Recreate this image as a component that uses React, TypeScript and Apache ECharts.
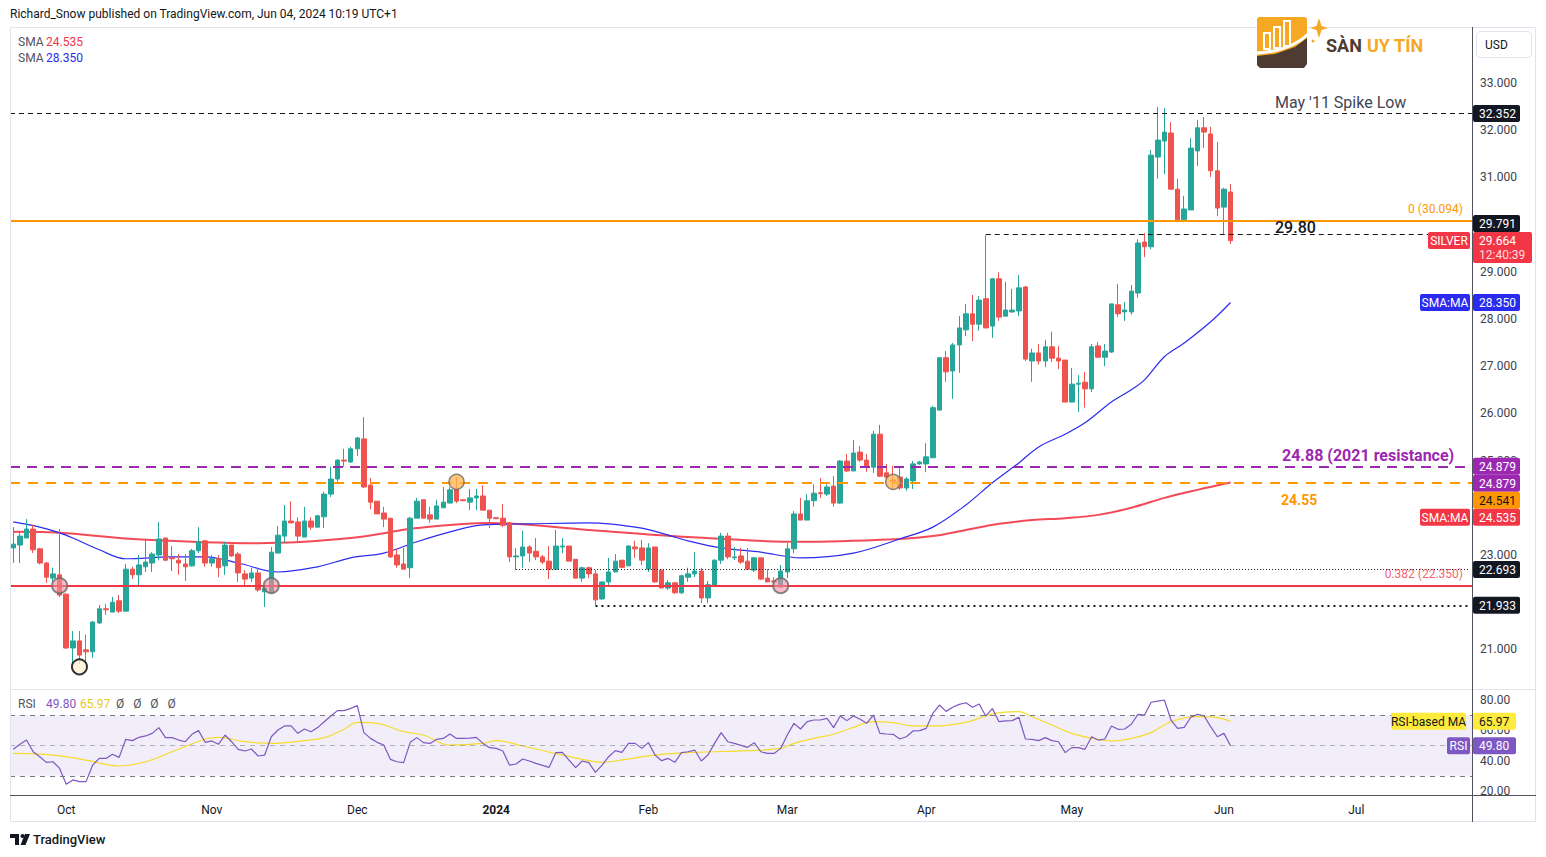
import React, { useEffect, useRef } from 'react';
import * as echarts from 'echarts';

// ---------- data ----------
const N_CATS = 221; // trading days incl. empty right margin
const monthTickIdx = [8, 30, 52, 73, 96, 117, 138, 160, 183, 203];
const monthTickLabel = ['Oct', 'Nov', 'Dec', '2024', 'Feb', 'Mar', 'Apr', 'May', 'Jun', 'Jul'];
const priceTicks = [21, 23, 25, 26, 27, 28, 29, 31, 32, 33];
const rsiTicks = [20, 40, 60, 80];

// [open, close, low, high]
const ohlc: number[][] = [
  [23.15, 23.23, 22.83, 23.59], [23.21, 23.40, 22.83, 23.49], [23.36, 23.55, 23.36, 23.76], [23.55, 23.11, 23.04, 23.64],
  [23.13, 22.83, 22.80, 23.15], [22.83, 22.53, 22.41, 22.85], [22.51, 22.60, 22.43, 22.73], [22.58, 22.15, 22.11, 23.55],
  [22.17, 21.03, 21.01, 22.19], [21.03, 21.18, 20.71, 21.39], [21.18, 20.88, 20.69, 21.39], [20.99, 20.95, 20.71, 21.31],
  [20.95, 21.58, 20.82, 21.60], [21.56, 21.86, 21.54, 21.94], [21.86, 21.84, 21.73, 21.96], [21.79, 22.00, 21.79, 22.11],
  [22.03, 21.81, 21.77, 22.15], [21.81, 22.70, 21.81, 22.81], [22.70, 22.58, 22.49, 22.75], [22.58, 22.79, 22.36, 23.00],
  [22.75, 22.85, 22.64, 23.32], [22.83, 23.02, 22.64, 23.06], [23.00, 23.34, 22.89, 23.70], [23.36, 22.89, 22.87, 23.36],
  [22.94, 22.92, 22.66, 23.19], [22.89, 22.83, 22.58, 23.02], [22.81, 22.75, 22.45, 23.02], [22.77, 23.09, 22.75, 23.13],
  [23.09, 23.28, 23.04, 23.59], [23.30, 22.83, 22.75, 23.32], [22.83, 22.92, 22.75, 23.00], [22.92, 22.73, 22.53, 23.00],
  [22.77, 23.21, 22.58, 23.28], [23.21, 22.98, 22.96, 23.21], [23.02, 22.62, 22.43, 23.06], [22.60, 22.49, 22.32, 22.68],
  [22.51, 22.62, 22.43, 22.73], [22.62, 22.26, 22.22, 22.73], [22.22, 22.30, 21.90, 22.34], [22.20, 23.06, 22.20, 23.17],
  [23.04, 23.42, 23.04, 23.61], [23.40, 23.72, 23.27, 24.06], [23.72, 23.68, 23.68, 24.14], [23.70, 23.40, 23.27, 23.80],
  [23.38, 23.72, 23.38, 24.02], [23.72, 23.59, 23.53, 23.80], [23.59, 23.83, 23.59, 23.85], [23.81, 24.29, 23.57, 24.34],
  [24.29, 24.61, 24.23, 24.87], [24.61, 25.01, 24.55, 25.03], [25.01, 24.99, 24.87, 25.25], [24.97, 25.25, 24.95, 25.29],
  [25.25, 25.48, 25.10, 25.50], [25.46, 24.44, 24.42, 25.92], [24.48, 24.12, 23.97, 24.63], [24.14, 23.87, 23.87, 24.14],
  [23.89, 23.76, 23.59, 24.02], [23.78, 22.96, 22.94, 23.78], [23.00, 22.79, 22.73, 23.13], [22.81, 22.70, 22.70, 23.15],
  [22.73, 23.78, 22.51, 23.81], [23.78, 24.14, 23.78, 24.21], [24.17, 23.78, 23.78, 24.17], [23.85, 23.76, 23.68, 24.02],
  [23.76, 24.04, 23.76, 24.17], [24.00, 24.12, 24.00, 24.44], [24.10, 24.38, 24.10, 24.44], [24.40, 24.14, 24.10, 24.65],
  [24.17, 24.15, 24.15, 24.17], [24.12, 24.21, 23.95, 24.40], [24.21, 24.25, 23.95, 24.40], [24.25, 23.95, 23.95, 24.48],
  [23.95, 23.78, 23.57, 23.95], [23.79, 23.77, 23.76, 23.80], [23.78, 23.63, 23.59, 24.08], [23.68, 22.96, 22.85, 23.70],
  [22.96, 22.98, 22.68, 23.15], [22.98, 23.17, 22.73, 23.51], [23.17, 23.04, 22.85, 23.21], [23.08, 22.96, 22.89, 23.36],
  [22.96, 22.85, 22.81, 23.00], [22.87, 22.70, 22.49, 23.19], [22.70, 23.19, 22.70, 23.53], [23.17, 23.19, 23.04, 23.36],
  [23.19, 22.87, 22.87, 23.19], [22.91, 22.51, 22.51, 22.91], [22.51, 22.73, 22.43, 22.75], [22.73, 22.60, 22.51, 22.75],
  [22.60, 22.05, 21.94, 22.68], [22.07, 22.43, 22.05, 22.43], [22.43, 22.64, 22.34, 22.94], [22.64, 22.87, 22.64, 23.02],
  [22.89, 22.74, 22.72, 22.89], [22.77, 23.19, 22.77, 23.21], [23.17, 23.13, 22.94, 23.30], [23.15, 22.89, 22.79, 23.32],
  [22.70, 23.15, 22.64, 23.25], [23.17, 22.43, 22.41, 23.17], [22.68, 22.30, 22.30, 22.68], [22.30, 22.41, 22.26, 22.47],
  [22.41, 22.20, 22.17, 22.43], [22.20, 22.56, 22.17, 22.58], [22.53, 22.60, 22.43, 22.73], [22.60, 22.66, 22.53, 23.06],
  [22.66, 22.09, 21.98, 22.73], [22.09, 22.37, 21.98, 22.45], [22.36, 22.89, 22.34, 22.91], [22.89, 23.40, 22.81, 23.47],
  [23.40, 22.96, 22.91, 23.47], [22.94, 22.96, 22.89, 23.17], [22.98, 22.85, 22.81, 23.15], [22.87, 22.70, 22.70, 23.15],
  [22.68, 22.94, 22.64, 22.96], [22.94, 22.49, 22.47, 22.94], [22.51, 22.43, 22.43, 22.70], [22.45, 22.43, 22.39, 22.53],
  [22.32, 22.66, 22.32, 22.79], [22.64, 23.13, 22.51, 23.25], [23.13, 23.87, 23.04, 23.93], [23.87, 23.74, 23.74, 24.21],
  [23.74, 24.15, 23.74, 24.29], [24.15, 24.31, 24.02, 24.50], [24.32, 24.30, 24.21, 24.63], [24.29, 24.44, 24.25, 24.50],
  [24.46, 24.10, 24.02, 24.67], [24.10, 24.99, 24.08, 25.01], [24.99, 24.78, 24.76, 25.14], [24.78, 25.16, 24.78, 25.44],
  [25.18, 25.01, 24.97, 25.31], [25.01, 24.86, 24.76, 25.14], [24.86, 25.56, 24.74, 25.63], [25.56, 24.67, 24.65, 25.76],
  [24.74, 24.65, 24.59, 24.93], [24.59, 24.55, 24.38, 24.89], [24.65, 24.42, 24.38, 24.86], [24.42, 24.61, 24.36, 24.65],
  [24.57, 24.93, 24.40, 24.99], [24.93, 24.97, 24.91, 24.99], [24.93, 25.08, 24.76, 25.37], [25.06, 26.12, 25.06, 26.16],
  [26.07, 27.18, 26.07, 27.18], [27.18, 26.88, 26.67, 27.32], [26.90, 27.45, 26.31, 27.49], [27.45, 27.81, 26.86, 28.06],
  [27.77, 28.11, 27.64, 28.32], [28.11, 27.89, 27.53, 28.51], [27.89, 28.40, 27.75, 28.49], [28.43, 27.81, 27.81, 29.78],
  [27.85, 28.85, 27.60, 28.87], [28.85, 28.04, 27.96, 28.99], [28.06, 28.19, 28.06, 28.79], [28.15, 28.19, 28.13, 28.64],
  [28.17, 28.66, 28.06, 28.93], [28.68, 27.15, 27.11, 28.70], [27.11, 27.28, 26.67, 27.37], [27.28, 27.11, 27.03, 27.47],
  [27.11, 27.41, 26.98, 27.56], [27.41, 27.17, 27.09, 27.73], [27.17, 27.11, 26.94, 27.43], [27.13, 26.24, 26.24, 27.13],
  [26.24, 26.62, 26.24, 26.96], [26.62, 26.64, 26.03, 26.81], [26.66, 26.52, 26.12, 26.88], [26.52, 27.41, 26.45, 27.47],
  [27.43, 27.19, 27.17, 27.51], [27.19, 27.32, 27.00, 27.47], [27.30, 28.32, 27.28, 28.32], [28.30, 28.11, 28.04, 28.74],
  [28.15, 28.19, 27.96, 28.36], [28.15, 28.59, 28.09, 28.72], [28.55, 29.61, 28.45, 29.69], [29.63, 29.53, 29.31, 29.82],
  [29.53, 31.47, 29.48, 31.58], [31.43, 31.79, 30.97, 32.49], [31.77, 31.96, 31.07, 32.47], [31.94, 30.75, 30.75, 32.17],
  [30.75, 30.10, 30.05, 30.97], [30.10, 30.33, 30.05, 30.61], [30.31, 31.62, 30.31, 31.83], [31.56, 32.05, 31.24, 32.22],
  [32.05, 31.96, 31.62, 32.28], [31.92, 31.14, 31.01, 32.07], [31.14, 30.35, 30.18, 31.75], [30.37, 30.75, 29.80, 30.78],
  [30.69, 29.66, 29.59, 30.86],
];

const rsi: number[] = [
  47.5, 50.8, 53.6, 45.9, 42.6, 38.9, 39.3, 34.9, 24.4, 27.3, 26.2, 26.2, 37.1, 41.5, 41.5, 44.2, 42.2, 54.1, 53.2, 55.4,
  56.3, 58.0, 61.8, 55.2, 55.2, 53.6, 52.5, 57.4, 59.8, 52.1, 53.0, 50.8, 56.9, 52.5, 47.5, 46.4, 47.7, 43.1, 43.7, 55.8,
  60.2, 62.9, 62.9, 58.0, 60.9, 59.1, 61.8, 65.7, 69.5, 73.0, 73.0, 74.5, 76.3, 58.5, 54.7, 52.1, 50.3, 40.9, 39.3, 38.7,
  52.1, 55.2, 51.9, 51.4, 54.1, 54.7, 57.6, 54.7, 54.7, 54.9, 55.4, 51.4, 48.6, 48.1, 46.4, 37.1, 37.8, 41.1, 39.8, 38.2,
  36.9, 35.6, 45.3, 45.5, 40.4, 35.4, 39.8, 38.7, 32.3, 37.1, 42.6, 46.6, 45.5, 51.4, 51.4, 48.1, 51.9, 43.7, 40.0, 41.5,
  38.9, 45.3, 45.9, 47.0, 39.8, 43.7, 51.4, 58.5, 52.5, 51.4, 50.1, 48.8, 51.9, 45.9, 44.8, 44.8, 48.1, 56.9, 64.6, 60.9,
  65.7, 66.8, 66.8, 67.9, 61.8, 69.5, 66.4, 69.5, 67.3, 64.6, 70.1, 58.0, 57.6, 57.4, 54.3, 55.8, 59.6, 59.8, 61.3, 71.2,
  76.7, 72.5, 75.2, 77.1, 78.2, 75.2, 77.4, 69.5, 74.3, 65.7, 66.2, 66.4, 68.6, 54.3, 54.1, 53.2, 55.2, 53.2, 52.5, 45.3,
  48.6, 48.6, 47.5, 55.8, 53.6, 54.3, 62.9, 60.7, 60.9, 64.0, 70.5, 70.1, 78.5, 79.3, 80.0, 66.8, 61.3, 62.0, 68.6, 70.5,
  69.5, 62.4, 55.8, 58.0, 49.8,
];

const rsiMaIdx = [0, 6, 11, 16, 20, 24, 29, 31, 35, 39, 44, 47, 50, 52, 55, 59, 62, 66, 71, 73, 77, 83, 86, 89, 92, 97, 103, 111, 116, 118, 121, 124, 127, 130, 133, 136, 139, 144, 148, 152, 154, 157, 160, 163, 166, 169, 172, 175, 179, 182, 184];
const rsiMaVal = [44.8, 43.7, 40.4, 36.5, 39.3, 45.9, 54.1, 55.4, 52.5, 51.4, 53.2, 55.2, 60.7, 65.3, 64.6, 59.1, 56.9, 50.3, 51.4, 53.2, 49.7, 43.7, 40.9, 38.9, 40.5, 43.7, 45.5, 46.6, 48.1, 51.4, 54.7, 57.4, 62.0, 65.7, 65.1, 62.9, 62.9, 65.3, 70.8, 72.3, 69.0, 63.5, 58.0, 54.7, 53.0, 54.7, 58.5, 65.7, 69.0, 68.4, 65.97];

const smaRedIdx = [0, 7, 18, 37, 51, 61, 72, 87, 102, 119, 134, 139, 144, 149, 154, 159, 164, 169, 174, 179, 184];
const smaRedVal = [23.49, 23.47, 23.34, 23.25, 23.36, 23.57, 23.68, 23.53, 23.38, 23.28, 23.34, 23.40, 23.53, 23.66, 23.74, 23.78, 23.85, 24.00, 24.21, 24.38, 24.535];

const smaBlueIdx = [0, 4, 7, 9, 13, 17, 24, 29, 34, 40, 46, 51, 56, 61, 66, 71, 78, 87, 95, 99, 102, 107, 113, 119, 127, 134, 139, 144, 148, 152, 155, 159, 162, 166, 169, 171, 174, 177, 181, 184];
const smaBlueVal = [23.70, 23.59, 23.47, 23.36, 23.11, 22.92, 22.96, 22.96, 22.83, 22.64, 22.75, 22.94, 23.04, 23.28, 23.49, 23.64, 23.66, 23.68, 23.57, 23.42, 23.30, 23.15, 23.06, 22.94, 23.04, 23.34, 23.59, 24.06, 24.53, 24.95, 25.29, 25.56, 25.80, 26.24, 26.50, 26.71, 27.20, 27.49, 27.94, 28.35];

const markerIdx = [7, 10, 39, 67, 116, 133];
const markerPrice = [22.35, 20.63, 22.35, 24.55, 22.35, 24.55];
const markerKind = ['pink', 'black', 'pink', 'orange', 'pink', 'orange'];

// levels
const spikeLow = 32.352;
const fib0 = 30.094;
const level2980 = 29.791;
const lastPrice = 29.664;
const smaBlueLast = 28.35;
const res2021 = 24.879;
const level2455 = 24.541;
const smaRedLast = 24.535;
const dotted1 = 22.693;
const fib382 = 22.35;
const dotted2 = 21.933;
const rsiLast = 49.8;
const rsiMaLast = 65.97;
const level2980Start = 147;
const dotted1Start = 76;
const dotted2Start = 88;

// ---------- helpers ----------
const F = 'Roboto, "Noto Sans", sans-serif';
const UP = '#26a69a';
const DOWN = '#ef5350';
const RED = '#f23645';
const BLUE = '#2b2bef';
const PURPLE = '#9c27b0';
const ORANGE = '#ff9800';
const RSI_C = '#7e57c2';
const YEL = '#f5dc2a';
const INK = '#131722';

function buildDates(): string[] {
  const out: string[] = [];
  let t = Date.UTC(2023, 8, 20);
  while (out.length < N_CATS) {
    const d = new Date(t);
    const wd = d.getUTCDay();
    if (wd !== 0 && wd !== 6) out.push(d.toISOString().slice(0, 10));
    t += 86400000;
  }
  return out;
}

function txt(x: number, y: number, text: string, fill: string, size = 12, weight: any = 'normal', align = 'left', extra: any = {}) {
  return {
    type: 'text', z: 101, x, y, silent: true,
    style: { text, fill, fontSize: size, fontFamily: F, fontWeight: weight, align, verticalAlign: 'middle', textAlign: align, textVerticalAlign: 'middle', ...extra },
  };
}
function box(x: number, yc: number, w: number, h: number, fill: string, text: string, color: string, align = 'left') {
  return [
    { type: 'rect', z: 100, silent: true, shape: { x, y: yc - h / 2, width: w, height: h, r: 2 }, style: { fill } },
    txt(align === 'center' ? x + w / 2 : x + 6, yc + 0.5, text, color, 12, 'normal', align),
  ];
}

export default function App() {
  const ref = useRef<HTMLDivElement>(null);
  useEffect(() => {
    if (!ref.current) return;
    const chart = echarts.init(ref.current, null, { renderer: 'svg' });
    const dates = buildDates();

    const markerStyle: Record<string, any> = {
      pink: { color: 'rgba(244,143,160,0.75)', borderColor: '#6b6b6b', borderWidth: 2 },
      black: { color: '#fff3d6', borderColor: '#000', borderWidth: 2 },
      orange: { color: 'rgba(255,183,77,0.95)', borderColor: '#6b6b6b', borderWidth: 1.5 },
    };

    const solid = (c: string, w = 1) => ({ color: c, width: w, type: 'solid' as any });

    const option: any = {
      animation: false,
      backgroundColor: '#ffffff',
      textStyle: { fontFamily: F },
      grid: [
        { left: 10, top: 27, width: 1462, height: 662 },
        { left: 10, top: 690, width: 1462, height: 105 },
      ],
      xAxis: [
        {
          type: 'category', gridIndex: 0, data: dates, boundaryGap: true,
          axisLine: { show: false }, axisTick: { show: false }, axisLabel: { show: false }, splitLine: { show: false },
        },
        {
          type: 'category', gridIndex: 1, data: dates, boundaryGap: true,
          axisLine: { show: false }, axisTick: { show: false }, splitLine: { show: false },
          axisLabel: {
            show: true, color: INK, fontSize: 12, margin: 9, fontFamily: F,
            interval: (i: number) => monthTickIdx.includes(i),
            formatter: (_v: string, i: number) => {
              const k = monthTickIdx.indexOf(i);
              if (k < 0) return '';
              return monthTickLabel[k] === '2024' ? '{b|2024}' : monthTickLabel[k];
            },
            rich: { b: { fontWeight: 'bold', fontSize: 12, color: INK, fontFamily: F } },
          },
        },
      ],
      yAxis: [
        {
          type: 'value', gridIndex: 0, position: 'right', min: 20.161, max: 34.186,
          axisLine: { show: false }, axisTick: { show: false }, splitLine: { show: false },
          axisLabel: { customValues: priceTicks, formatter: (v: number) => v.toFixed(3), color: '#3d414b', fontSize: 12, margin: 8, fontFamily: F },
        },
        {
          type: 'value', gridIndex: 1, position: 'right', min: 17.38, max: 86.59,
          axisLine: { show: false }, axisTick: { show: false }, splitLine: { show: false },
          axisLabel: { customValues: rsiTicks, formatter: (v: number) => v.toFixed(2), color: '#3d414b', fontSize: 12, margin: 8, fontFamily: F },
        },
      ],
      series: [
        {
          type: 'candlestick', name: 'SILVER', xAxisIndex: 0, yAxisIndex: 0, data: ohlc, barWidth: 5,
          itemStyle: { color: UP, color0: DOWN, borderColor: UP, borderColor0: DOWN, borderWidth: 1 },
          z: 3,
          markLine: {
            silent: true, symbol: ['none', 'none'], label: { show: false }, animation: false,
            data: [
              { yAxis: spikeLow, lineStyle: { color: INK, width: 1, type: [5, 4] } },
              { yAxis: fib0, lineStyle: solid(ORANGE, 2) },
              [{ coord: [dates[level2980Start], level2980], lineStyle: { color: INK, width: 1, type: [5, 4] } }, { coord: [dates[N_CATS - 1], level2980] }],
              { yAxis: res2021, lineStyle: { color: PURPLE, width: 2, type: [10, 7] } },
              { yAxis: level2455, lineStyle: { color: ORANGE, width: 2, type: [10, 8] } },
              [{ coord: [dates[dotted1Start], dotted1], lineStyle: { color: INK, width: 1, type: [1, 2] } }, { coord: [dates[N_CATS - 1], dotted1] }],
              { yAxis: fib382, lineStyle: solid(RED, 2) },
              [{ coord: [dates[dotted2Start], dotted2], lineStyle: { color: INK, width: 2, type: [2, 4] } }, { coord: [dates[N_CATS - 1], dotted2] }],
            ],
          },
        },
        {
          type: 'line', name: 'SMA200', xAxisIndex: 0, yAxisIndex: 0, smooth: 0.35, showSymbol: false, silent: true, z: 2,
          data: smaRedIdx.map((i, k) => [dates[i], smaRedVal[k]]),
          lineStyle: { color: RED, width: 2, opacity: 0.9 },
        },
        {
          type: 'line', name: 'SMA50', xAxisIndex: 0, yAxisIndex: 0, smooth: 0.35, showSymbol: false, silent: true, z: 2,
          data: smaBlueIdx.map((i, k) => [dates[i], smaBlueVal[k]]),
          lineStyle: { color: BLUE, width: 1.2 },
        },
        {
          type: 'scatter', name: 'markers', xAxisIndex: 0, yAxisIndex: 0, symbolSize: 15, z: 6, silent: true,
          data: markerIdx.map((i, k) => ({ value: [dates[i], markerPrice[k]], itemStyle: markerStyle[markerKind[k]] })),
        },
        {
          type: 'line', name: 'RSI', xAxisIndex: 1, yAxisIndex: 1, showSymbol: false, silent: true, z: 3,
          data: rsi, lineStyle: { color: RSI_C, width: 1.2 },
          markArea: {
            silent: true, itemStyle: { color: 'rgba(126,87,194,0.1)' },
            data: [[{ yAxis: 30 }, { yAxis: 70 }]],
          },
          markLine: {
            silent: true, symbol: ['none', 'none'], label: { show: false },
            data: [
              { yAxis: 70, lineStyle: { color: '#787b86', width: 1, type: [5, 5] } },
              { yAxis: 50, lineStyle: { color: 'rgba(120,123,134,0.55)', width: 1, type: [5, 5] } },
              { yAxis: 30, lineStyle: { color: '#787b86', width: 1, type: [5, 5] } },
            ],
          },
        },
        {
          type: 'line', name: 'RSI MA', xAxisIndex: 1, yAxisIndex: 1, showSymbol: false, silent: true, smooth: 0.4, z: 2,
          data: rsiMaIdx.map((i, k) => [dates[i], rsiMaVal[k]]),
          lineStyle: { color: YEL, width: 1.2 },
        },
      ],
    };

    chart.setOption(option);

    const py = (v: number) => chart.convertToPixel({ yAxisIndex: 0 } as any, v) as number;
    const ry = (v: number) => chart.convertToPixel({ yAxisIndex: 1 } as any, v) as number;

    const els: any[] = [];
    // frame
    els.push({ type: 'rect', z: 90, silent: true, shape: { x: 10.5, y: 27.5, width: 1525, height: 794 }, style: { fill: 'none', stroke: '#e0e3eb', lineWidth: 1 } });
    els.push({ type: 'line', z: 90, silent: true, shape: { x1: 10, y1: 689.5, x2: 1536, y2: 689.5 }, style: { stroke: '#e0e3eb', lineWidth: 1 } });
    els.push({ type: 'line', z: 90, silent: true, shape: { x1: 10, y1: 795.5, x2: 1536, y2: 795.5 }, style: { stroke: '#50535e', lineWidth: 1 } });
    els.push({ type: 'line', z: 90, silent: true, shape: { x1: 1472.5, y1: 27, x2: 1472.5, y2: 822 }, style: { stroke: '#50535e', lineWidth: 1 } });

    // header
    els.push(txt(10, 14, 'Richard_Snow published on TradingView.com, Jun 04, 2024 10:19 UTC+1', INK, 12));
    // legends
    els.push(txt(18, 42, 'SMA', '#50535e', 12));
    els.push(txt(46, 42, smaRedLast.toFixed(3), RED, 12));
    els.push(txt(18, 58, 'SMA', '#50535e', 12));
    els.push(txt(46, 58, smaBlueLast.toFixed(3), BLUE, 12));
    els.push(txt(18, 704, 'RSI', '#50535e', 12));
    els.push(txt(46, 704, rsiLast.toFixed(2), RSI_C, 12));
    els.push(txt(80, 704, rsiMaLast.toFixed(2), '#e6c81a', 12));
    els.push(txt(116, 704, 'Ø   Ø   Ø   Ø', '#50535e', 12));

    // USD box
    els.push({ type: 'rect', z: 100, silent: true, shape: { x: 1476.5, y: 31.5, width: 55, height: 26, r: 4 }, style: { fill: '#fff', stroke: '#e0e3eb', lineWidth: 1 } });
    els.push(txt(1485, 45, 'USD', INK, 12));

    // logo
    els.push({ type: 'rect', z: 100, silent: true, shape: { x: 1257, y: 17, width: 50, height: 44, r: 3 }, style: { fill: '#f7a823' } });
    els.push({ type: 'polygon', z: 101, silent: true, shape: { points: [[1257, 56], [1275, 54], [1295, 47], [1307, 38], [1307, 64], [1304, 68], [1260, 68], [1257, 65]] }, style: { fill: '#4e3b31' } });
    els.push({ type: 'bezierCurve', z: 102, silent: true, shape: { x1: 1257, y1: 53, cpx1: 1280, cpy1: 52, cpx2: 1300, cpy2: 44, x2: 1312, y2: 30 }, style: { stroke: '#fff', lineWidth: 3, fill: 'none' } });
    els.push({ type: 'rect', z: 102, silent: true, shape: { x: 1264, y: 33, width: 6, height: 16 }, style: { fill: 'none', stroke: '#fff', lineWidth: 2 } });
    els.push({ type: 'rect', z: 102, silent: true, shape: { x: 1274, y: 27, width: 6, height: 21 }, style: { fill: 'none', stroke: '#fff', lineWidth: 2 } });
    els.push({ type: 'rect', z: 102, silent: true, shape: { x: 1284, y: 21, width: 6, height: 25 }, style: { fill: 'none', stroke: '#fff', lineWidth: 2 } });
    els.push({ type: 'polygon', z: 102, silent: true, shape: { points: [[1319, 18], [1321.5, 26], [1328, 28], [1321.5, 30], [1319, 38], [1316.5, 30], [1310, 28], [1316.5, 26]] }, style: { fill: '#f7a823' } });
    els.push({ type: 'circle', z: 102, silent: true, shape: { cx: 1313, cy: 41, r: 1.5 }, style: { fill: '#f7a823' } });
    els.push(txt(1326, 45, 'SÀN', '#4e3b31', 18, 'bold'));
    els.push(txt(1367, 45, 'UY TÍN', '#f7a823', 18, 'bold'));

    // footer
    els.push({ type: 'polygon', z: 100, silent: true, shape: { points: [[10, 834], [19, 834], [19, 845], [15, 845], [15, 838], [10, 838]] }, style: { fill: INK } });
    els.push({ type: 'circle', z: 100, silent: true, shape: { cx: 22.5, cy: 836, r: 2 }, style: { fill: INK } });
    els.push({ type: 'polygon', z: 100, silent: true, shape: { points: [[25, 834], [30, 834], [25.5, 845], [20.5, 845]] }, style: { fill: INK } });
    els.push(txt(33, 839, 'TradingView', INK, 13, 500));

    // annotations
    els.push(txt(1275, py(spikeLow) - 11, "May '11 Spike Low", '#434651', 16));
    els.push(txt(1463, py(fib0) - 11, '0 (30.094)', ORANGE, 12, 'normal', 'right'));
    els.push(txt(1275, py(level2980) - 7, '29.80', INK, 16, 500));
    els.push(txt(1282, py(res2021) - 11, '24.88 (2021 resistance)', PURPLE, 16, 'bold'));
    els.push(txt(1281, py(level2455) + 18, '24.55', ORANGE, 14, 'bold'));
    els.push(txt(1463, py(fib382) - 12, '0.382 (22.350)', 'rgba(242,54,69,0.8)', 12, 'normal', 'right'));

    // axis tags
    const VX = 1473, VW = 47, VH = 17;
    els.push(...box(VX, py(spikeLow), VW, VH, INK, spikeLow.toFixed(3), '#fff'));
    els.push(...box(VX, py(lastPrice) - 17, VW, VH, INK, level2980.toFixed(3), '#fff'));
    const lp = py(lastPrice);
    els.push({ type: 'rect', z: 100, silent: true, shape: { x: VX, y: lp - 8.5, width: 59, height: 31, r: 2 }, style: { fill: RED } });
    els.push(txt(VX + 6, lp + 0.5, lastPrice.toFixed(3), '#fff', 12));
    els.push(txt(VX + 6, lp + 15, '12:40:39', 'rgba(255,255,255,0.85)', 12));
    els.push(...box(1428, lp, 42, VH, RED, 'SILVER', '#fff', 'center'));
    els.push(...box(VX, py(smaBlueLast), VW, VH, BLUE, smaBlueLast.toFixed(3), '#fff'));
    els.push(...box(1420, py(smaBlueLast), 50, VH, BLUE, 'SMA:MA', '#fff', 'center'));
    const r0 = py(res2021);
    els.push(...box(VX, r0, VW, VH, PURPLE, res2021.toFixed(3), '#fff'));
    els.push(...box(VX, r0 + 17, VW, VH, PURPLE, res2021.toFixed(3), '#fff'));
    els.push(...box(VX, r0 + 34, VW, VH, ORANGE, level2455.toFixed(3), INK));
    els.push(...box(VX, r0 + 51, VW, VH, RED, smaRedLast.toFixed(3), '#fff'));
    els.push(...box(1420, r0 + 51, 50, VH, RED, 'SMA:MA', '#fff', 'center'));
    els.push(...box(VX, py(dotted1), VW, VH, INK, dotted1.toFixed(3), '#fff'));
    els.push(...box(VX, py(dotted2), VW, VH, INK, dotted2.toFixed(3), '#fff'));
    els.push(...box(VX, ry(rsiMaLast), 43, VH, '#ffeb3b', rsiMaLast.toFixed(2), INK));
    els.push(...box(1391, ry(rsiMaLast), 75, VH, '#ffeb3b', 'RSI-based MA', INK, 'center'));
    els.push(...box(VX, ry(rsiLast), 43, VH, RSI_C, rsiLast.toFixed(2), '#fff'));
    els.push(...box(1447, ry(rsiLast), 23, VH, RSI_C, 'RSI', '#fff', 'center'));

    chart.setOption({ graphic: { elements: els } });

    return () => chart.dispose();
  }, []);

  return (
    <div
      ref={ref}
      style={{ position: 'fixed', left: 0, top: 0, width: 1546, height: 857, background: '#fff' }}
    />
  );
}
